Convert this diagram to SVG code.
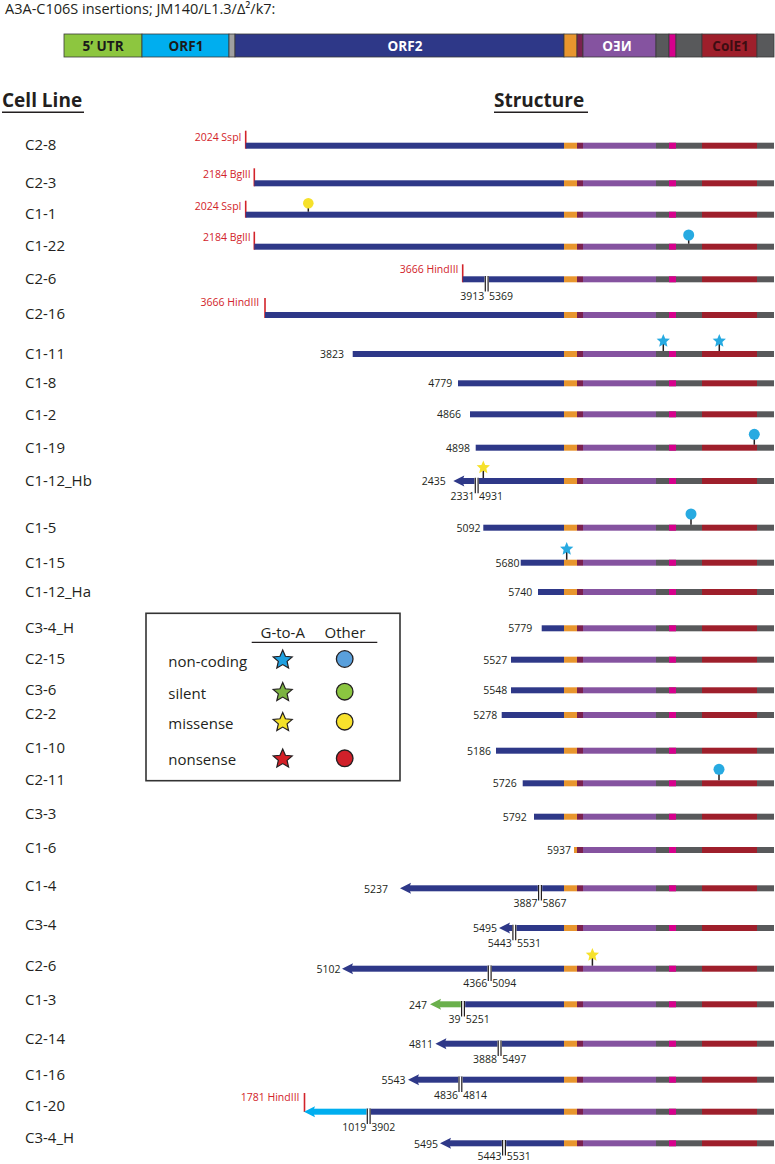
<svg xmlns="http://www.w3.org/2000/svg" width="775" height="1164" viewBox="0 0 775 1164">
<style>
text{font-family:"Open Sans","Liberation Sans",sans-serif;fill:#231f20}
.ttl{font-size:14.5px}
.hd{font-size:19px;font-weight:bold}
.seg{font-size:13.5px;font-weight:bold;text-anchor:middle}
.cl{font-size:15px}
.n{font-size:10.5px}
.ne{font-size:10.5px;text-anchor:end}
.rd{font-size:10.5px;text-anchor:end;fill:#d2232a}
.lg{font-size:15px}
.lgc{font-size:15px;text-anchor:middle}
.tick{stroke:#d2232a;stroke-width:1.6}
.stem{stroke:#231f20;stroke-width:1.5}
.ul{stroke:#231f20;stroke-width:1.6}
.nv{fill:#2e3888}
.tb{stroke:#3a3a3a;stroke-width:0.8}
.bl{fill:#27aae1}
.yl{fill:#f6e12b}
</style>
<defs>
<g id="tail2">
<rect x="577" y="-3" width="6" height="6" fill="#7b2150"/>
<rect x="583" y="-3" width="73" height="6" fill="#8553a0"/>
<rect x="656" y="-3" width="46" height="6" fill="#58595b"/>
<rect x="669" y="-3" width="7" height="6" fill="#d6008c"/>
<rect x="702" y="-3" width="55" height="6" fill="#9e1f2b"/>
<rect x="757" y="-3" width="17" height="6" fill="#58595b"/>
</g>
<g id="tail">
<rect x="564" y="-3" width="13" height="6" fill="#e8962e"/>
<use href="#tail2"/>
</g>
<g id="brk">
<rect x="-2.2" y="-3.2" width="4.4" height="15.5" fill="#ffffff"/>
<path d="M-1.4,-3.2v15.5M1.4,-3.2v15.5" stroke="#231f20" stroke-width="1.2" fill="none"/>
</g>
<polygon id="ah" points="0,0 11,-5.5 9,0 11,5.5"/>
<path id="st" d="M0,-10 L2.704,-3.721 L9.511,-3.09 L4.375,1.421 L5.878,8.09 L0,4.6 L-5.878,8.09 L-4.375,1.421 L-9.511,-3.09 L-2.704,-3.721 Z"/>
</defs>

<g id="title"><text class="ttl" x="5" y="14">A3A-C106S insertions; JM140/L1.3/Δ²/k7:</text></g>

<g id="topbar">
<rect class="tb" x="64" y="34" width="78" height="23" fill="#8dc63f"/>
<rect class="tb" x="142" y="34" width="87" height="23" fill="#00aeef"/>
<rect class="tb" x="229" y="34" width="6" height="23" fill="#a0a0a0"/>
<rect class="tb" x="235" y="34" width="329" height="23" fill="#2e3888"/>
<rect class="tb" x="564" y="34" width="13" height="23" fill="#e8962e"/>
<rect class="tb" x="577" y="34" width="6" height="23" fill="#7b2150"/>
<rect class="tb" x="583" y="34" width="73" height="23" fill="#8553a0"/>
<rect class="tb" x="656" y="34" width="13" height="23" fill="#58595b"/>
<rect class="tb" x="669" y="34" width="7" height="23" fill="#d6008c"/>
<rect class="tb" x="676" y="34" width="26" height="23" fill="#58595b"/>
<rect class="tb" x="702" y="34" width="55" height="23" fill="#9e1f2b"/>
<rect class="tb" x="757" y="34" width="17" height="23" fill="#58595b"/>
<text class="seg" x="103" y="50.5" style="fill:#1a1a1a">5’ UTR</text>
<text class="seg" x="186" y="50.5" style="fill:#1a1a1a">ORF1</text>
<text class="seg" x="405" y="50.5" style="fill:#ffffff">ORF2</text>
<text class="seg" transform="translate(617,0) scale(-1,1)" x="0" y="50.5" style="fill:#ffffff">NEO</text>
<text class="seg" x="730.5" y="50.5" style="fill:#3d0d12">ColE1</text>
</g>

<g id="headers">
<text class="hd" x="2" y="107">Cell Line</text>
<line class="ul" x1="2" y1="112.3" x2="84" y2="112.3"/>
<text class="hd" x="494" y="107">Structure</text>
<line class="ul" x1="494" y1="112.3" x2="588" y2="112.3"/>
</g>

<g id="legend">
<rect x="146" y="613.3" width="254" height="167.4" fill="#ffffff" stroke="#333333" stroke-width="1.6"/>
<text class="lgc" x="282.7" y="637.5">G-to-A</text>
<text class="lgc" x="345" y="637.5">Other</text>
<line x1="251.7" y1="642.3" x2="377.3" y2="642.3" stroke="#231f20" stroke-width="1.3"/>
<text class="lg" x="168.3" y="667">non-coding</text>
<text class="lg" x="168.3" y="698.5">silent</text>
<text class="lg" x="168.3" y="728.5">missense</text>
<text class="lg" x="168.3" y="765">nonsense</text>
<use href="#st" x="282.7" y="660" fill="#1fa0e0" stroke="#231f20" stroke-width="1.2"/>
<use href="#st" x="282.7" y="692.5" fill="#7cb342" stroke="#231f20" stroke-width="1.2"/>
<use href="#st" x="282.7" y="722.5" fill="#f5e12a" stroke="#231f20" stroke-width="1.2"/>
<use href="#st" x="282.7" y="759" fill="#d42027" stroke="#231f20" stroke-width="1.2"/>
<circle cx="344.7" cy="659" r="8.3" fill="#5aa0dc" stroke="#231f20" stroke-width="1.3"/>
<circle cx="344.7" cy="691.7" r="8.3" fill="#8bc540" stroke="#231f20" stroke-width="1.3"/>
<circle cx="344.7" cy="721.7" r="8.3" fill="#f8e22c" stroke="#231f20" stroke-width="1.3"/>
<circle cx="344.7" cy="758.3" r="8.3" fill="#d0202a" stroke="#231f20" stroke-width="1.3"/>
</g>

<g id="row-C2-8">
<text class="cl" x="25" y="150.3">C2-8</text>
<text class="rd" x="241.5" y="141">2024 SspI</text>
<line class="tick" x1="245.7" y1="130.7" x2="245.7" y2="148.7"/>
<rect class="nv" x="245.7" y="142.7" width="318.3" height="6"/>
<use href="#tail" y="145.7"/>
</g>
<g id="row-C2-3">
<text class="cl" x="25" y="188">C2-3</text>
<text class="rd" x="250.7" y="178">2184 BglII</text>
<line class="tick" x1="254.3" y1="168.3" x2="254.3" y2="186.3"/>
<rect class="nv" x="254.3" y="180.3" width="309.7" height="6"/>
<use href="#tail" y="183.3"/>
</g>
<g id="row-C1-1">
<text class="cl" x="25" y="219.3">C1-1</text>
<text class="rd" x="241.5" y="210">2024 SspI</text>
<line class="tick" x1="245.7" y1="200.7" x2="245.7" y2="217.7"/>
<rect class="nv" x="245.7" y="211.7" width="318.3" height="6"/>
<use href="#tail" y="214.7"/>
<line class="stem" x1="308.3" y1="203.3" x2="308.3" y2="211.7"/>
<circle class="yl" cx="308.3" cy="203.3" r="5.3"/>
</g>
<g id="row-C1-22">
<text class="cl" x="25" y="251">C1-22</text>
<text class="rd" x="250.7" y="241.3">2184 BglII</text>
<line class="tick" x1="254.3" y1="231.7" x2="254.3" y2="249.7"/>
<rect class="nv" x="254.3" y="243.7" width="309.7" height="6"/>
<use href="#tail" y="246.7"/>
<line class="stem" x1="688.7" y1="235" x2="688.7" y2="243.7"/>
<circle class="bl" cx="688.7" cy="235" r="5.5"/>
</g>
<g id="row-C2-6a">
<text class="cl" x="25" y="284.3">C2-6</text>
<text class="rd" x="458.5" y="272.7">3666 HindIII</text>
<line class="tick" x1="462.7" y1="264.3" x2="462.7" y2="282.3"/>
<rect class="nv" x="462.7" y="276.3" width="101.3" height="6"/>
<use href="#tail" y="279.3"/>
<use href="#brk" x="486.7" y="279.3"/>
<text class="ne" x="484.3" y="300">3913</text>
<text class="n" x="489" y="300">5369</text>
</g>
<g id="row-C2-16">
<text class="cl" x="25" y="319.3">C2-16</text>
<text class="rd" x="259.3" y="306">3666 HindIII</text>
<line class="tick" x1="265" y1="298" x2="265" y2="318"/>
<rect class="nv" x="265" y="312" width="299" height="6"/>
<use href="#tail" y="315"/>
</g>
<g id="row-C1-11">
<text class="cl" x="25" y="358.6">C1-11</text>
<text class="ne" x="344" y="358">3823</text>
<rect class="nv" x="352.7" y="351" width="211.3" height="6"/>
<use href="#tail" y="354"/>
<line class="stem" x1="663.3" y1="341" x2="663.3" y2="351"/>
<line class="stem" x1="719.3" y1="341" x2="719.3" y2="351"/>
<use href="#st" class="bl" transform="translate(663.3,341) scale(0.7)"/>
<use href="#st" class="bl" transform="translate(719.3,341) scale(0.7)"/>
</g>
<g id="row-C1-8">
<text class="cl" x="25" y="388">C1-8</text>
<text class="ne" x="452.3" y="387.3">4779</text>
<rect class="nv" x="458" y="380.3" width="106" height="6"/>
<use href="#tail" y="383.3"/>
</g>
<g id="row-C1-2">
<text class="cl" x="25" y="419.6">C1-2</text>
<text class="ne" x="461" y="418.3">4866</text>
<rect class="nv" x="470" y="411.3" width="94" height="6"/>
<use href="#tail" y="414.3"/>
</g>
<g id="row-C1-19">
<text class="cl" x="25" y="452.6">C1-19</text>
<text class="ne" x="470" y="451.7">4898</text>
<rect class="nv" x="475.7" y="444.7" width="88.3" height="6"/>
<use href="#tail" y="447.7"/>
<line class="stem" x1="754.3" y1="434.3" x2="754.3" y2="444.7"/>
<circle class="bl" cx="754.3" cy="434.3" r="5.5"/>
</g>
<g id="row-C1-12_Hb">
<text class="cl" x="25" y="486.3">C1-12_Hb</text>
<text class="ne" x="445.7" y="485">2435</text>
<use href="#ah" class="nv" x="453.3" y="481"/>
<rect class="nv" x="461.3" y="478" width="102.7" height="6"/>
<use href="#tail" y="481"/>
<use href="#brk" x="476.7" y="481"/>
<line class="stem" x1="483.3" y1="467.5" x2="483.3" y2="478"/>
<use href="#st" class="yl" transform="translate(483.3,467.5) scale(0.7)"/>
<text class="ne" x="474.5" y="500">2331</text>
<text class="n" x="479" y="500">4931</text>
</g>
<g id="row-C1-5">
<text class="cl" x="25" y="532.6">C1-5</text>
<text class="ne" x="480.5" y="531.7">5092</text>
<rect class="nv" x="483.3" y="524.7" width="80.7" height="6"/>
<use href="#tail" y="527.7"/>
<line class="stem" x1="691" y1="514" x2="691" y2="524.7"/>
<circle class="bl" cx="691" cy="514" r="5.5"/>
</g>
<g id="row-C1-15">
<text class="cl" x="25" y="567.6">C1-15</text>
<text class="ne" x="519.5" y="566.7">5680</text>
<rect class="nv" x="520.7" y="559.7" width="43.3" height="6"/>
<use href="#tail" y="562.7"/>
<line class="stem" x1="566.7" y1="549" x2="566.7" y2="559.7"/>
<use href="#st" class="bl" transform="translate(566.7,549) scale(0.7)"/>
</g>
<g id="row-C1-12_Ha">
<text class="cl" x="25" y="597">C1-12_Ha</text>
<text class="ne" x="532.3" y="596">5740</text>
<rect class="nv" x="538" y="589" width="26" height="6"/>
<use href="#tail" y="592"/>
</g>
<g id="row-C3-4_Ha">
<text class="cl" x="25" y="632.6">C3-4_H</text>
<text class="ne" x="532.3" y="632.3">5779</text>
<rect class="nv" x="541.7" y="625.3" width="22.3" height="6"/>
<use href="#tail" y="628.3"/>
</g>
<g id="row-C2-15">
<text class="cl" x="25" y="664.3">C2-15</text>
<text class="ne" x="507.3" y="663.7">5527</text>
<rect class="nv" x="511" y="656.7" width="53" height="6"/>
<use href="#tail" y="659.7"/>
</g>
<g id="row-C3-6">
<text class="cl" x="25" y="694.6">C3-6</text>
<text class="ne" x="507.3" y="694.3">5548</text>
<rect class="nv" x="511" y="687.3" width="53" height="6"/>
<use href="#tail" y="690.3"/>
</g>
<g id="row-C2-2">
<text class="cl" x="25" y="718.6">C2-2</text>
<text class="ne" x="497.3" y="719">5278</text>
<rect class="nv" x="501.7" y="712" width="62.3" height="6"/>
<use href="#tail" y="715"/>
</g>
<g id="row-C1-10">
<text class="cl" x="25" y="753.3">C1-10</text>
<text class="ne" x="491" y="754.7">5186</text>
<rect class="nv" x="496" y="747.7" width="68" height="6"/>
<use href="#tail" y="750.7"/>
</g>
<g id="row-C2-11">
<text class="cl" x="25" y="785.3">C2-11</text>
<text class="ne" x="516.7" y="787.3">5726</text>
<rect class="nv" x="522.7" y="780.3" width="41.3" height="6"/>
<use href="#tail" y="783.3"/>
<line class="stem" x1="719" y1="769.3" x2="719" y2="780.3"/>
<circle class="bl" cx="719" cy="769.3" r="5.5"/>
</g>
<g id="row-C3-3">
<text class="cl" x="25" y="819.3">C3-3</text>
<text class="ne" x="526.7" y="820.7">5792</text>
<rect class="nv" x="534" y="813.7" width="30" height="6"/>
<use href="#tail" y="816.7"/>
</g>
<g id="row-C1-6">
<text class="cl" x="25" y="853.3">C1-6</text>
<text class="ne" x="571" y="854">5937</text>
<rect x="574" y="847" width="3" height="6" fill="#e8962e"/>
<use href="#tail2" y="850"/>
</g>
<g id="row-C1-4">
<text class="cl" x="25" y="891.3">C1-4</text>
<text class="ne" x="388" y="892.8">5237</text>
<use href="#ah" class="nv" x="400" y="888.3"/>
<rect class="nv" x="408" y="885.3" width="156" height="6"/>
<use href="#tail" y="888.3"/>
<use href="#brk" x="540" y="888.3"/>
<text class="ne" x="537.5" y="907.3">3887</text>
<text class="n" x="542.5" y="907.3">5867</text>
</g>
<g id="row-C3-4">
<text class="cl" x="25" y="930.3">C3-4</text>
<text class="ne" x="497" y="932.3">5495</text>
<use href="#ah" class="nv" x="499" y="928"/>
<rect class="nv" x="507" y="925" width="57" height="6"/>
<use href="#tail" y="928"/>
<use href="#brk" x="514.3" y="928"/>
<text class="ne" x="511.8" y="947">5443</text>
<text class="n" x="517" y="947">5531</text>
</g>
<g id="row-C2-6b">
<text class="cl" x="25" y="971.3">C2-6</text>
<text class="ne" x="340.4" y="973">5102</text>
<use href="#ah" class="nv" x="342" y="968.7"/>
<rect class="nv" x="350" y="965.7" width="214" height="6"/>
<use href="#tail" y="968.7"/>
<use href="#brk" x="489.7" y="968.7"/>
<line class="stem" x1="592.4" y1="955" x2="592.4" y2="965.7"/>
<use href="#st" class="yl" transform="translate(592.4,955) scale(0.7)"/>
<text class="ne" x="487.2" y="987">4366</text>
<text class="n" x="492.3" y="987">5094</text>
</g>
<g id="row-C1-3">
<text class="cl" x="25" y="1005.3">C1-3</text>
<text class="ne" x="427" y="1008.5">247</text>
<use href="#ah" x="430" y="1004.3" fill="#6ab04c"/>
<rect x="438" y="1001.3" width="25" height="6" fill="#6ab04c"/>
<rect class="nv" x="463" y="1001.3" width="101" height="6"/>
<use href="#tail" y="1004.3"/>
<use href="#brk" x="463" y="1004.3"/>
<text class="ne" x="460.5" y="1023">39</text>
<text class="n" x="465.7" y="1023">5251</text>
</g>
<g id="row-C2-14">
<text class="cl" x="25" y="1044.3">C2-14</text>
<text class="ne" x="433" y="1048">4811</text>
<use href="#ah" class="nv" x="435.4" y="1043.7"/>
<rect class="nv" x="443.4" y="1040.7" width="120.6" height="6"/>
<use href="#tail" y="1043.7"/>
<use href="#brk" x="499.6" y="1043.7"/>
<text class="ne" x="497" y="1062.5">3888</text>
<text class="n" x="502.3" y="1062.5">5497</text>
</g>
<g id="row-C1-16">
<text class="cl" x="25" y="1080.3">C1-16</text>
<text class="ne" x="405.4" y="1084">5543</text>
<use href="#ah" class="nv" x="408" y="1079.7"/>
<rect class="nv" x="416" y="1076.7" width="148" height="6"/>
<use href="#tail" y="1079.7"/>
<use href="#brk" x="460.4" y="1079.7"/>
<text class="ne" x="458" y="1098.5">4836</text>
<text class="n" x="463" y="1098.5">4814</text>
</g>
<g id="row-C1-20">
<text class="cl" x="25" y="1111.3">C1-20</text>
<text class="rd" x="299.5" y="1101">1781 HindIII</text>
<line class="tick" x1="304.5" y1="1093" x2="304.5" y2="1112"/>
<use href="#ah" x="304" y="1111.7" fill="#00aeef"/>
<rect x="312" y="1108.7" width="56.7" height="6" fill="#00aeef"/>
<rect class="nv" x="368.7" y="1108.7" width="195.3" height="6"/>
<use href="#tail" y="1111.7"/>
<use href="#brk" x="368.7" y="1111.7"/>
<text class="ne" x="366.2" y="1130.5">1019</text>
<text class="n" x="371.3" y="1130.5">3902</text>
</g>
<g id="row-C3-4_Hb">
<text class="cl" x="25" y="1143.3">C3-4_H</text>
<text class="ne" x="438" y="1147.5">5495</text>
<use href="#ah" class="nv" x="440" y="1143.3"/>
<rect class="nv" x="448" y="1140.3" width="116" height="6"/>
<use href="#tail" y="1143.3"/>
<use href="#brk" x="504" y="1143.3"/>
<text class="ne" x="501.5" y="1159.5">5443</text>
<text class="n" x="506.7" y="1159.5">5531</text>
</g>
</svg>
